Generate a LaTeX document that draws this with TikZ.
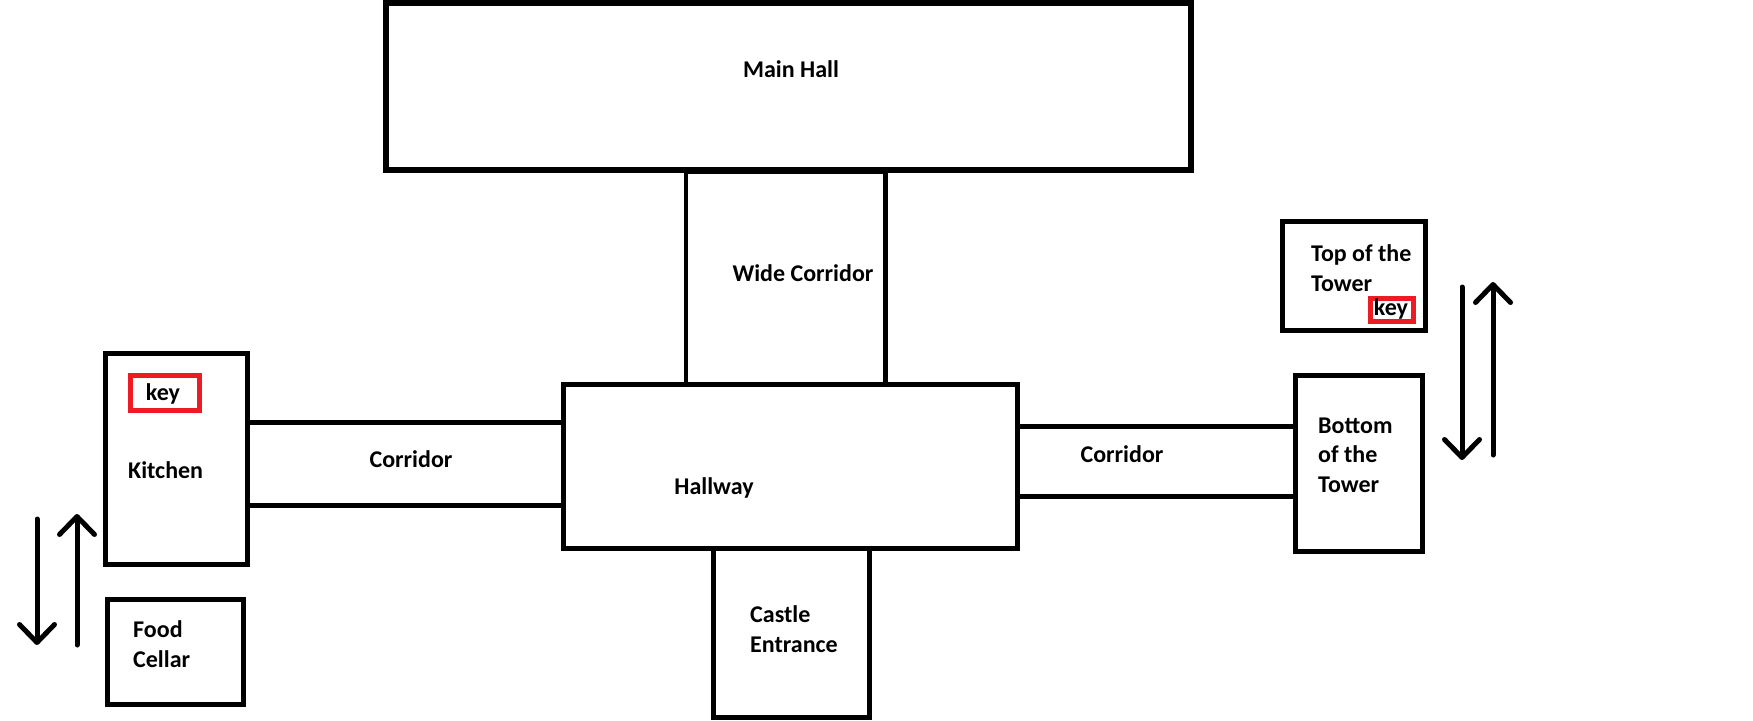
\documentclass[tikz,border=0pt]{standalone}
\usepackage{fontspec}
\setmainfont{Carlito}
\usetikzlibrary{arrows.meta}
\definecolor{keyred}{RGB}{237,28,36}

\begin{document}
\begin{tikzpicture}[
    x=1pt, y=-1pt,
    room/.style={
    draw=black,
    line width=5pt,
    inner sep=0pt},
    keybox/.style={
    draw=keyred,
    line width=4.5pt,
    inner sep=0pt},
    wall/.style={line width=5pt},
    roomlabel/.style={
    inner sep=0pt,
    align=left,
    font=\fontsize{24}{29.5}\selectfont\bfseries},
    stairs/.style={-{Straight Barb[length=18pt,width=35pt,round]},line width=5pt,line cap=round}
    ]
    \useasboundingbox (0,0) rectangle (1753,720);

    % rooms
    \node[room, line width=6pt, minimum width=805.5pt, minimum height=167.5pt] (mainhall) at (788.5,86.5) {};
    \node[room, line width=4.5pt, minimum width=199.5pt, minimum height=213pt] (widecor) at (785.75,278.5) {};
    \node[room, minimum width=454.5pt, minimum height=164pt] (hallway) at (790.25,466) {};
    \node[room, minimum width=156.5pt, minimum height=169pt] (entrance) at (791.25,632.5) {};
    \node[room, minimum width=142.5pt, minimum height=211.5pt] (kitchen) at (176.5,459) {};
    \node[room, minimum width=136.5pt, minimum height=105.5pt] (cellar) at (175.5,652) {};
    \node[room, minimum width=127.5pt, minimum height=176.5pt] (towerbottom) at (1359,463.5) {};
    \node[room, minimum width=143.5pt, minimum height=109.5pt] (towertop) at (1354,276) {};
    \node[keybox, minimum width=69pt, minimum height=35pt] (kitchenkey) at (165,393) {};
    \node[keybox, minimum width=43pt, minimum height=23pt] (towerkey) at (1392,310) {};

    % corridors
    \draw[wall] (kitchen.east |- 0,422) -- (hallway.west |- 0,422);
    \draw[wall] (kitchen.east |- 0,505) -- (hallway.west |- 0,505);
    \draw[wall] (hallway.east |- 0,426) -- (towerbottom.west |- 0,426);
    \draw[wall] (hallway.east |- 0,496) -- (towerbottom.west |- 0,496);

    % labels (base = last line)
    \node[roomlabel, anchor=base] (mainhalltext) at (791,77) {Main Hall};
    \node[roomlabel, anchor=base] (widecortext) at (803,281) {Wide Corridor};
    \node[roomlabel, anchor=base] (hallwaytext) at (714,494) {Hallway};
    \node[roomlabel, anchor=base] (leftcortext) at (411,467) {Corridor};
    \node[roomlabel, anchor=base] (rightcortext) at (1122,462) {Corridor};
    \node[roomlabel, anchor=base west] (kitchentext) at (128,478) {Kitchen};
    \node[roomlabel, anchor=base west] (cellartext) at (133,667) {Food\\Cellar};
    \node[roomlabel, anchor=base west] (entrancetext) at (750,652) {Castle\\Entrance};
    \node[roomlabel, anchor=base west] (towerbottomtext) at (1318,492) {Bottom\\of the\\Tower};
    \node[roomlabel, anchor=base west] (towertoptext) at (1311,291) {Top of the\\Tower};
    \node[roomlabel, anchor=base] (kitchenkeytext) at (163,400) {key};
    \node[roomlabel, anchor=base] (towerkeytext) at (1391,315) {key};

    % stairs
    \coordinate (leftdownstart) at (37,519);
    \coordinate (leftdownend) at (37,645);
    \coordinate (leftupstart) at (77,645);
    \coordinate (leftupend) at (77,514);
    \coordinate (rightdownstart) at (1462,287);
    \coordinate (rightdownend) at (1462,460);
    \coordinate (rightupstart) at (1493,455);
    \coordinate (rightupend) at (1493,282);
    \draw[stairs] (leftdownstart) -- (leftdownend);
    \draw[stairs] (leftupstart) -- (leftupend);
    \draw[stairs] (rightdownstart) -- (rightdownend);
    \draw[stairs] (rightupstart) -- (rightupend);
\end{tikzpicture}
\end{document}
